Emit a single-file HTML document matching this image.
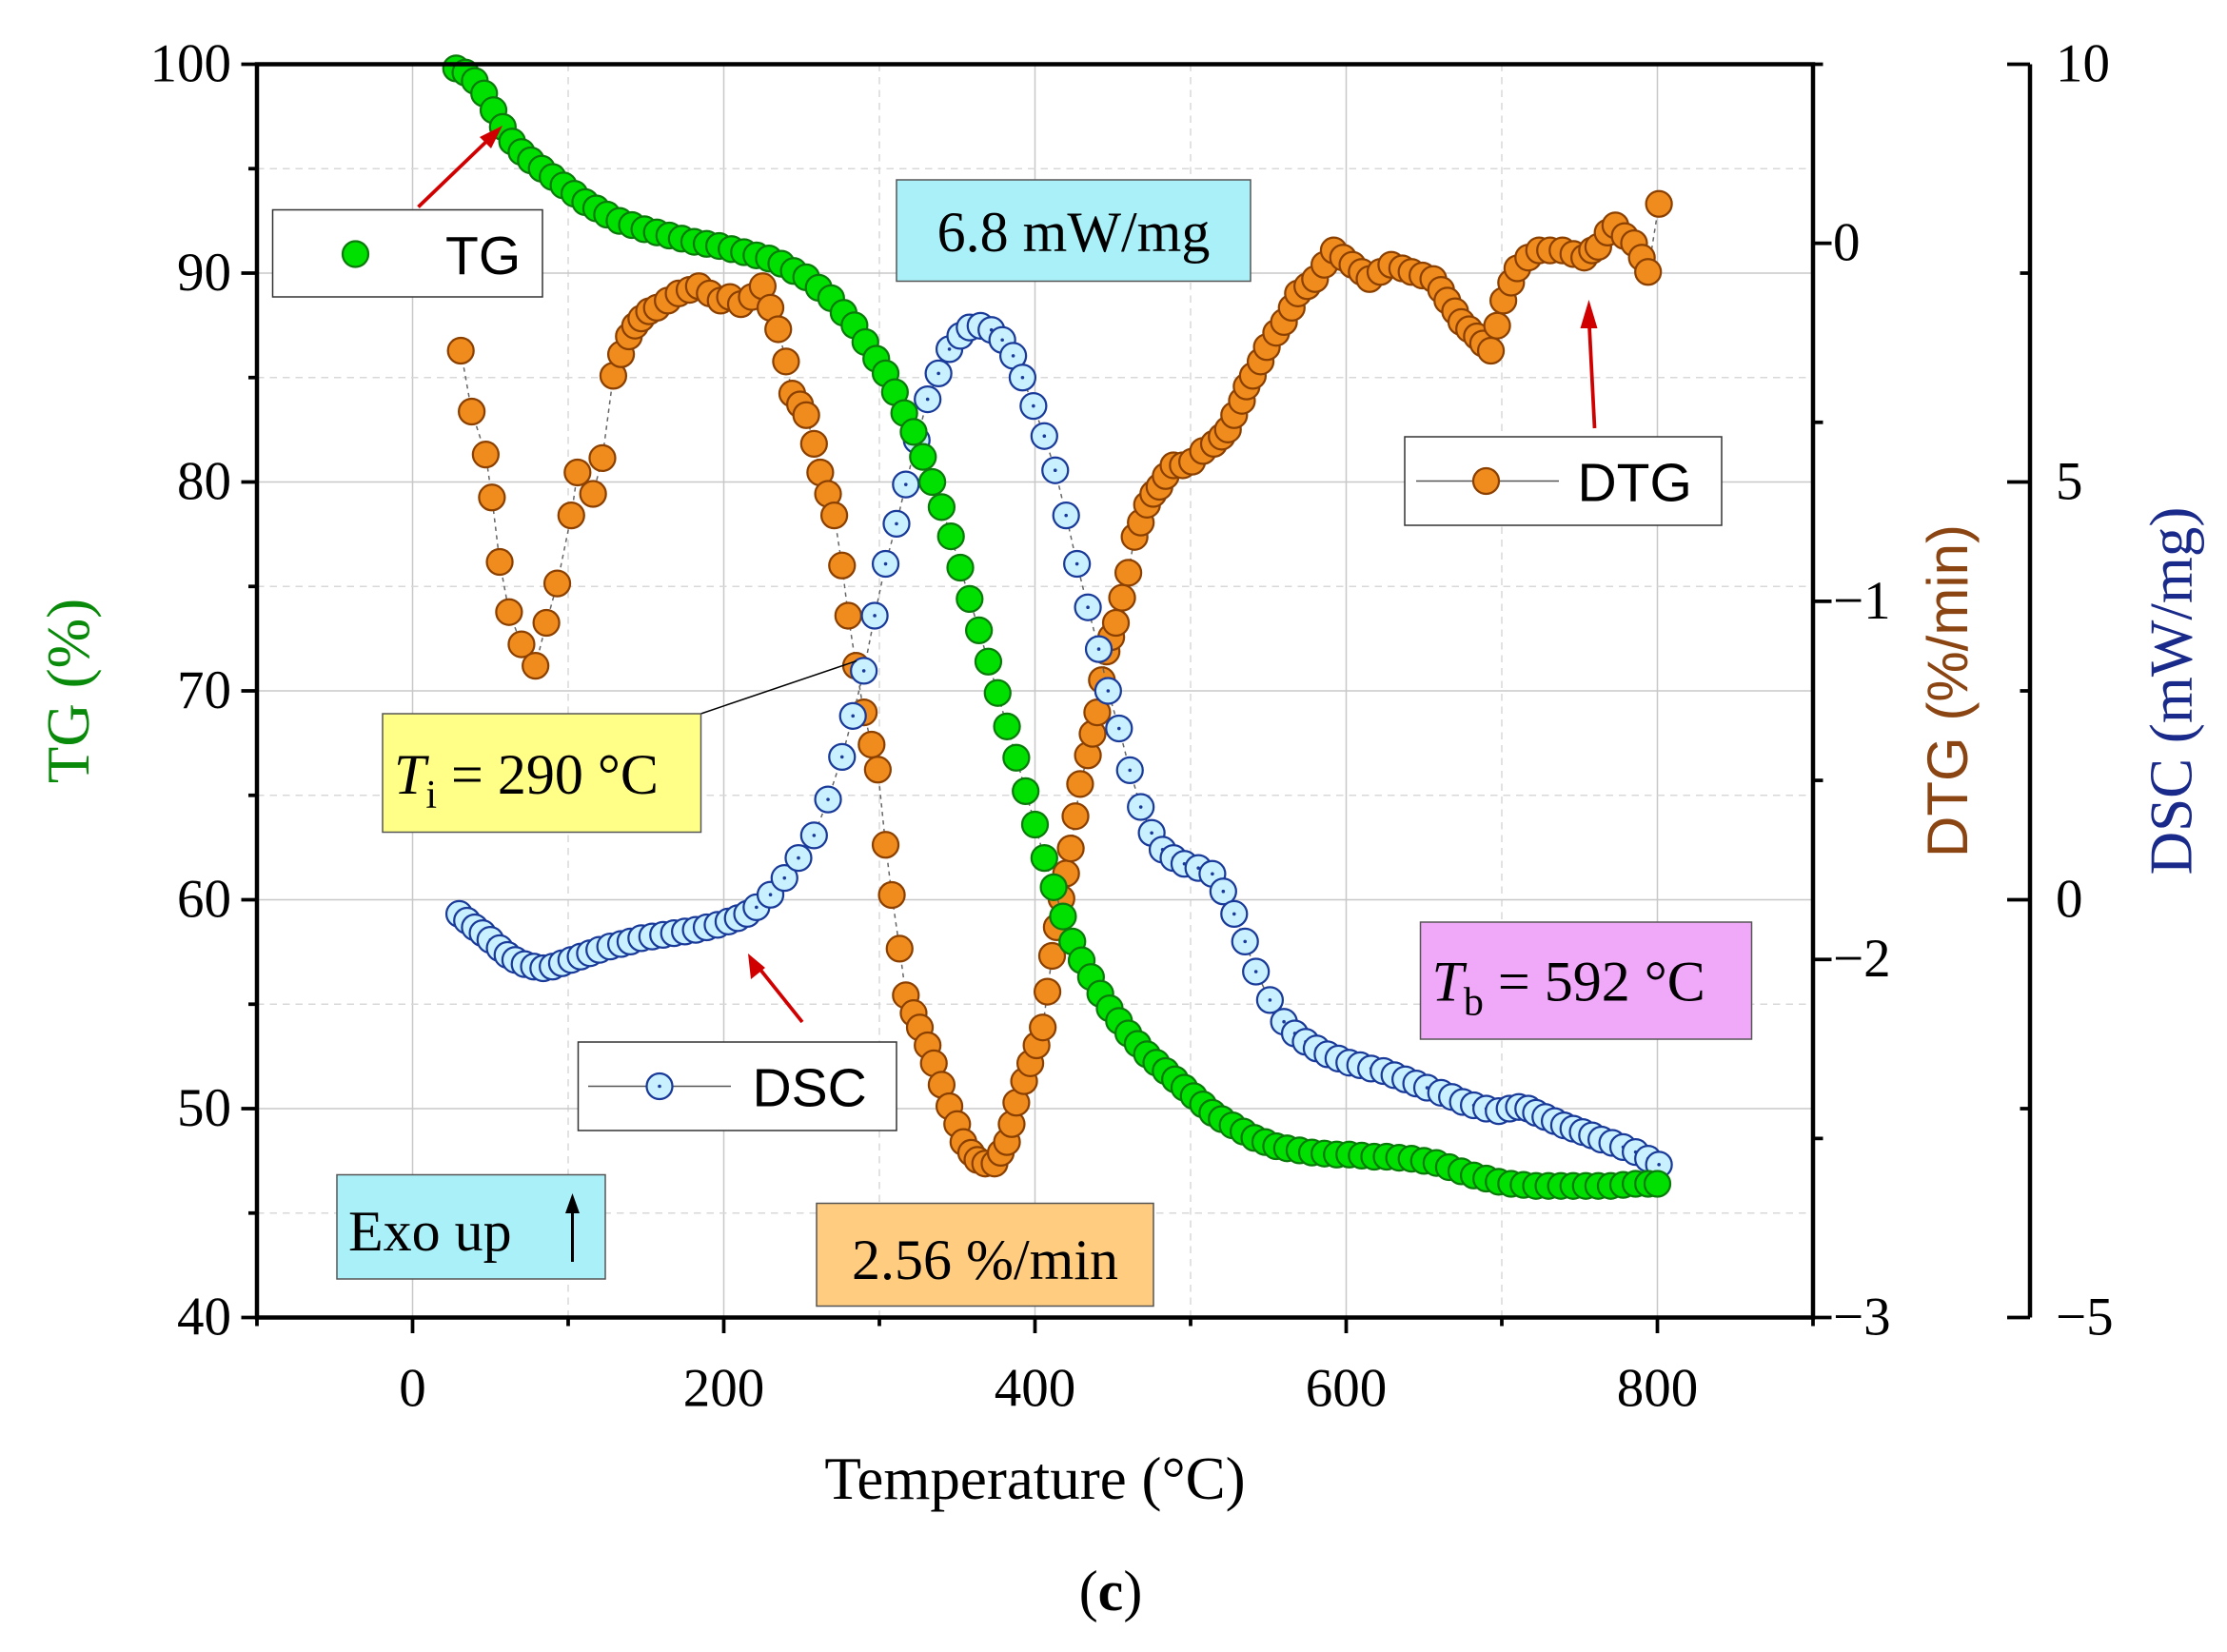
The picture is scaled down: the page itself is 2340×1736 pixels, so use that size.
<!DOCTYPE html>
<html><head><meta charset="utf-8"><style>
html,body{margin:0;padding:0;background:#fff}
svg{display:block}
.serif{font-family:"Liberation Serif",serif}
.sans{font-family:"Liberation Sans",sans-serif}
</style></head><body>
<svg id="chart" width="2340" height="1736" viewBox="0 0 1560 1157.33" xmlns="http://www.w3.org/2000/svg">
<g id="grid"></g>
<g id="series"></g>
<g id="axes"></g>
<g id="annot">
  <line x1="293" y1="145" x2="345" y2="95" stroke="#d00000" stroke-width="2.5"/>
  <polygon points="352,88 336,96 344,104" fill="#d00000"/>
  <line x1="562" y1="716" x2="530" y2="676" stroke="#d00000" stroke-width="2.5"/>
  <polygon points="524,668 526,686 536,678" fill="#d00000"/>
  <line x1="1117" y1="300" x2="1113" y2="222" stroke="#d00000" stroke-width="2.5"/>
  <polygon points="1113,210 1107,230 1119,230" fill="#d00000"/>
  <line x1="491" y1="500" x2="600" y2="463" stroke="#000" stroke-width="1"/>

  <g>
    <rect x="191" y="147" width="189" height="61" fill="#fff" stroke="#333" stroke-width="1"/>
    <circle cx="249" cy="178" r="9" fill="#00e000" stroke="#0a7a0a" stroke-width="1.5"/>
    <text x="312" y="192" class="sans" font-size="38">TG</text>
  </g>
  <g>
    <rect x="984" y="306" width="222" height="62" fill="#fff" stroke="#333" stroke-width="1"/>
    <line x1="992" y1="337" x2="1092" y2="337" stroke="#555" stroke-width="1"/>
    <circle cx="1041" cy="337" r="9" fill="#f08c1e" stroke="#8b4000" stroke-width="1.5"/>
    <text x="1105" y="351" class="sans" font-size="38">DTG</text>
  </g>
  <g>
    <rect x="405" y="730" width="223" height="62" fill="#fff" stroke="#333" stroke-width="1"/>
    <line x1="412" y1="761" x2="512" y2="761" stroke="#555" stroke-width="1"/>
    <circle cx="462" cy="761" r="9" fill="#c8f0ff" stroke="#1a3a9a" stroke-width="1.5"/>
    <circle cx="462" cy="761" r="1.2" fill="#1a3a9a"/>
    <text x="527" y="775" class="sans" font-size="38">DSC</text>
  </g>
  <g>
    <rect x="628" y="126" width="248" height="71" fill="#aaf0f8" stroke="#555" stroke-width="1"/>
    <text x="752" y="176" class="serif" font-size="40" text-anchor="middle">6.8 mW/mg</text>
  </g>
  <g>
    <rect x="268" y="500" width="223" height="83" fill="#ffff88" stroke="#555" stroke-width="1"/>
    <text x="276" y="556" class="serif" font-size="40"><tspan font-style="italic">T</tspan><tspan font-size="28" dy="10">i</tspan><tspan dy="-10"> = 290 °C</tspan></text>
  </g>
  <g>
    <rect x="995" y="646" width="232" height="82" fill="#f0a8f8" stroke="#555" stroke-width="1"/>
    <text x="1003" y="701" class="serif" font-size="40"><tspan font-style="italic">T</tspan><tspan font-size="28" dy="10">b</tspan><tspan dy="-10"> = 592 °C</tspan></text>
  </g>
  <g>
    <rect x="236" y="823" width="188" height="73" fill="#aaf0f8" stroke="#555" stroke-width="1"/>
    <text x="244" y="876" class="serif" font-size="40">Exo up</text>
    <line x1="401" y1="884" x2="401" y2="842" stroke="#000" stroke-width="2"/>
    <polygon points="401,836 396,850 406,850" fill="#000"/>
  </g>
  <g>
    <rect x="572" y="843" width="236" height="72" fill="#ffcc80" stroke="#555" stroke-width="1"/>
    <text x="690" y="896" class="serif" font-size="40" text-anchor="middle">2.56 %/min</text>
  </g>
  <text x="725" y="1050" class="serif" font-size="42" text-anchor="middle">Temperature (°C)</text>
  <text transform="translate(62,484) rotate(-90)" class="serif" font-size="42" fill="#0a8a0a" text-anchor="middle">TG (%)</text>
  <text transform="translate(1378,484) rotate(-90)" class="sans" font-size="40" fill="#8b4513" text-anchor="middle">DTG (%/min)</text>
  <text transform="translate(1535,484) rotate(-90)" class="serif" font-size="42" fill="#1a2a8a" text-anchor="middle">DSC (mW/mg)</text>
  <text x="778" y="1128" class="serif" font-size="40" text-anchor="middle">(<tspan font-weight="bold">c</tspan>)</text>
</g>
</svg>
<script>
const tgT = [28,34,40,46,52,58,64,70,76,83,90,97,104,111,118,125,133,141,149,157,165,173,181,189,197,205,213,221,229,237,245,253,261,269,277,284,291,298,304,310,316,322,328,334,340,346,352,358,364,370,376,382,388,394,400,406,412,418,424,430,436,442,448,454,460,466,472,478,484,490,496,502,508,514,520,527,534,541,548,555,562,570,578,586,594,602,610,618,626,634,642,650,658,666,674,682,690,698,706,714,722,730,738,746,754,762,770,778,786,794,800];
const tgV = [99.8,99.6,99.2,98.6,97.8,97,96.3,95.8,95.4,95.0,94.6,94.2,93.8,93.4,93.1,92.8,92.5,92.3,92.1,91.95,91.8,91.65,91.5,91.4,91.3,91.15,91.0,90.85,90.7,90.45,90.1,89.8,89.3,88.8,88.1,87.5,86.7,85.9,85.2,84.3,83.3,82.4,81.2,80.0,78.8,77.4,75.9,74.4,72.9,71.4,69.9,68.3,66.8,65.2,63.6,62.0,60.6,59.2,58.0,57.1,56.3,55.5,54.8,54.2,53.6,53.1,52.6,52.2,51.8,51.4,51.0,50.6,50.2,49.8,49.5,49.2,48.9,48.6,48.4,48.2,48.1,48.0,47.9,47.85,47.8,47.8,47.75,47.7,47.7,47.65,47.6,47.5,47.4,47.2,47.0,46.8,46.65,46.5,46.4,46.35,46.3,46.3,46.3,46.3,46.3,46.3,46.3,46.35,46.4,46.4,46.4];
const dtgT = [31,38,47,51,56,62,70,79,86,93,102,106,116,122,129,134,139,143,147,152,157,164,171,178,184,191,198,204,211,218,225,230,235,240,244,249,253,258,262,267,271,276,280,285,290,295,299,304,308,313,317,322,326,331,335,340,345,350,354,359,363,368,374,378,382,385,388,393,397,401,405,408,411,414,417,420,423,426,429,434,437,440,443,446,449,452,456,460,464,468,472,476,480,484,489,495,501,508,515,520,524,528,533,536,540,545,549,555,560,565,569,575,580,586,592,598,604,610,615,622,629,636,642,649,656,661,665,670,674,679,684,688,693,697,701,706,710,717,724,731,739,746,753,758,762,768,773,779,785,790,794,801];
const dtgV = [-0.30,-0.47,-0.59,-0.71,-0.89,-1.03,-1.12,-1.18,-1.06,-0.95,-0.76,-0.64,-0.70,-0.60,-0.37,-0.31,-0.26,-0.23,-0.21,-0.19,-0.18,-0.16,-0.14,-0.13,-0.12,-0.14,-0.16,-0.15,-0.17,-0.15,-0.12,-0.18,-0.24,-0.33,-0.42,-0.45,-0.48,-0.56,-0.64,-0.70,-0.76,-0.90,-1.04,-1.18,-1.31,-1.40,-1.47,-1.68,-1.82,-1.97,-2.10,-2.15,-2.19,-2.24,-2.29,-2.35,-2.41,-2.46,-2.51,-2.54,-2.56,-2.57,-2.57,-2.54,-2.51,-2.46,-2.40,-2.34,-2.29,-2.24,-2.19,-2.09,-1.99,-1.91,-1.83,-1.76,-1.69,-1.60,-1.51,-1.43,-1.37,-1.31,-1.22,-1.14,-1.10,-1.06,-0.99,-0.92,-0.82,-0.78,-0.73,-0.70,-0.68,-0.65,-0.62,-0.62,-0.61,-0.58,-0.56,-0.54,-0.52,-0.48,-0.44,-0.40,-0.37,-0.33,-0.29,-0.25,-0.22,-0.18,-0.14,-0.12,-0.10,-0.06,-0.02,-0.04,-0.06,-0.08,-0.10,-0.08,-0.06,-0.07,-0.08,-0.09,-0.10,-0.13,-0.16,-0.19,-0.22,-0.24,-0.26,-0.28,-0.30,-0.23,-0.16,-0.11,-0.07,-0.04,-0.02,-0.02,-0.02,-0.03,-0.04,-0.02,-0.01,0.03,0.05,0.02,0,-0.04,-0.08,0.11];
const dscT = [30,35,40,45,50,56,61,66,72,78,84,90,96,102,108,114,120,127,134,140,147,154,161,168,175,182,189,196,203,209,215,221,230,239,248,258,267,276,283,290,297,304,311,317,324,331,338,345,352,358,365,372,379,386,392,399,406,413,420,427,434,441,447,454,461,468,475,482,489,496,505,514,521,528,535,542,551,560,567,574,581,588,595,602,609,616,624,631,638,645,652,661,668,675,682,690,698,705,711,717,722,728,734,740,746,752,758,764,771,778,786,794,801];
const dscV = [-0.17,-0.25,-0.33,-0.4,-0.48,-0.58,-0.66,-0.72,-0.77,-0.8,-0.82,-0.8,-0.76,-0.72,-0.68,-0.64,-0.6,-0.56,-0.53,-0.5,-0.46,-0.44,-0.42,-0.4,-0.38,-0.36,-0.33,-0.3,-0.26,-0.22,-0.17,-0.09,0.06,0.26,0.5,0.77,1.2,1.71,2.2,2.74,3.4,4.02,4.5,4.97,5.5,5.99,6.3,6.59,6.75,6.85,6.87,6.82,6.7,6.51,6.25,5.91,5.55,5.14,4.6,4.02,3.5,3.0,2.5,2.05,1.55,1.11,0.8,0.6,0.5,0.43,0.38,0.31,0.1,-0.17,-0.5,-0.86,-1.2,-1.46,-1.6,-1.7,-1.78,-1.85,-1.9,-1.95,-1.98,-2.02,-2.05,-2.1,-2.15,-2.2,-2.25,-2.31,-2.36,-2.42,-2.46,-2.5,-2.53,-2.5,-2.48,-2.5,-2.55,-2.6,-2.65,-2.7,-2.74,-2.78,-2.82,-2.87,-2.91,-2.96,-3.02,-3.1,-3.17];
const xTicks = [0,200,400,600,800];
const tgTicks = [40,50,60,70,80,90,100];
const dtgTicks = [0,-1,-2,-3];
const dscTicks = [10,5,0,-5];

const NS='http://www.w3.org/2000/svg';
const L=180,R=1270,T=45,B=923;
const sx=v=>L+(v+100)/1000*(R-L);
const syTG=v=>B-(v-40)/60*(B-T);
const syDTG=v=>B-(v+3)/3.5*(B-T);
const syDSC=v=>B-(v+5)/15*(B-T);
function mk(tag,attrs,parent){const e=document.createElementNS(NS,tag);for(const k in attrs)e.setAttribute(k,attrs[k]);parent.appendChild(e);return e;}
const grid=document.getElementById('grid'),axes=document.getElementById('axes'),ser=document.getElementById('series');
for(let v=0;v<=800;v+=100){const l=mk('line',{x1:sx(v),x2:sx(v),y1:T,y2:B,stroke:v%200?'#d8d8d8':'#c8c8c8','stroke-width':1,'stroke-dasharray':v%200?'5 4':'none'},grid);

}
for(let v=45;v<100;v+=5){const l=mk('line',{x1:L,x2:R,y1:syTG(v),y2:syTG(v),stroke:v%10?'#d8d8d8':'#c8c8c8','stroke-width':1,'stroke-dasharray':v%10?'5 4':'none'},grid);

}
mk('rect',{x:L,y:T,width:R-L,height:B-T,fill:'none',stroke:'#000','stroke-width':3},axes);
mk('line',{x1:1422,x2:1422,y1:T,y2:B,stroke:'#000','stroke-width':3},axes);
function txt(x,y,s,anchor,parent){const t=mk('text',{x:x,y:y,'font-size':38,'text-anchor':anchor,'font-family':'"Liberation Serif",serif'},parent);t.textContent=s;return t;}
for(let v=-100;v<=900;v+=100){mk('line',{x1:sx(v),x2:sx(v),y1:B,y2:B+(v%200?6:11),stroke:'#000','stroke-width':2.5},axes);}
xTicks.forEach(v=>{const t=txt(sx(v),B+62,String(v),'middle',axes);

});
for(let v=40;v<=100;v+=5){mk('line',{x1:L-(v%10?6:11),x2:L,y1:syTG(v),y2:syTG(v),stroke:'#000','stroke-width':2.5},axes);}
tgTicks.forEach(v=>{const t=txt(L-18,syTG(v)+12,String(v),'end',axes);

});
for(let v=-3;v<=0.5;v+=0.5){mk('line',{x1:R,x2:R+(Number.isInteger(v)?13:7),y1:syDTG(v),y2:syDTG(v),stroke:'#000','stroke-width':2.5},axes);}
dtgTicks.forEach(v=>{const t=txt(R+14,syDTG(v)+12,v<0?'\u2212'+(-v):String(v),'start',axes);

});
for(let v=-5;v<=10;v+=2.5){mk('line',{x1:1422-(v%5?7:16),x2:1422,y1:syDSC(v),y2:syDSC(v),stroke:'#000','stroke-width':2.5},axes);}
dscTicks.forEach(v=>{const t=txt(1440,syDSC(v)+12,v<0?'\u2212'+(-v):String(v),'start',axes);

});
function series(Ts,Vs,sy,fill,stroke,name,dot){
  const g=mk('g',{},ser);
  
  
  mk('polyline',{points:Ts.map((t,i)=>sx(t)+','+sy(Vs[i])).join(' '),fill:'none',stroke:'#666','stroke-width':1,'stroke-dasharray':'3 3'},g);
  Ts.forEach((t,i)=>{const c=mk('circle',{cx:sx(t),cy:sy(Vs[i]),r:9,fill:fill,stroke:stroke,'stroke-width':1.5},g);
  
  
  if(dot)mk('circle',{cx:sx(t),cy:sy(Vs[i]),r:1.2,fill:stroke},g);});
}
series(dtgT,dtgV,syDTG,'#f08c1e','#8b4000','dtg',false);
series(dscT,dscV,syDSC,'#c8f0ff','#1a3a9a','dsc',true);
series(tgT,tgV,syTG,'#00e000','#0a7a0a','tg',false);
</script>
</body></html>
